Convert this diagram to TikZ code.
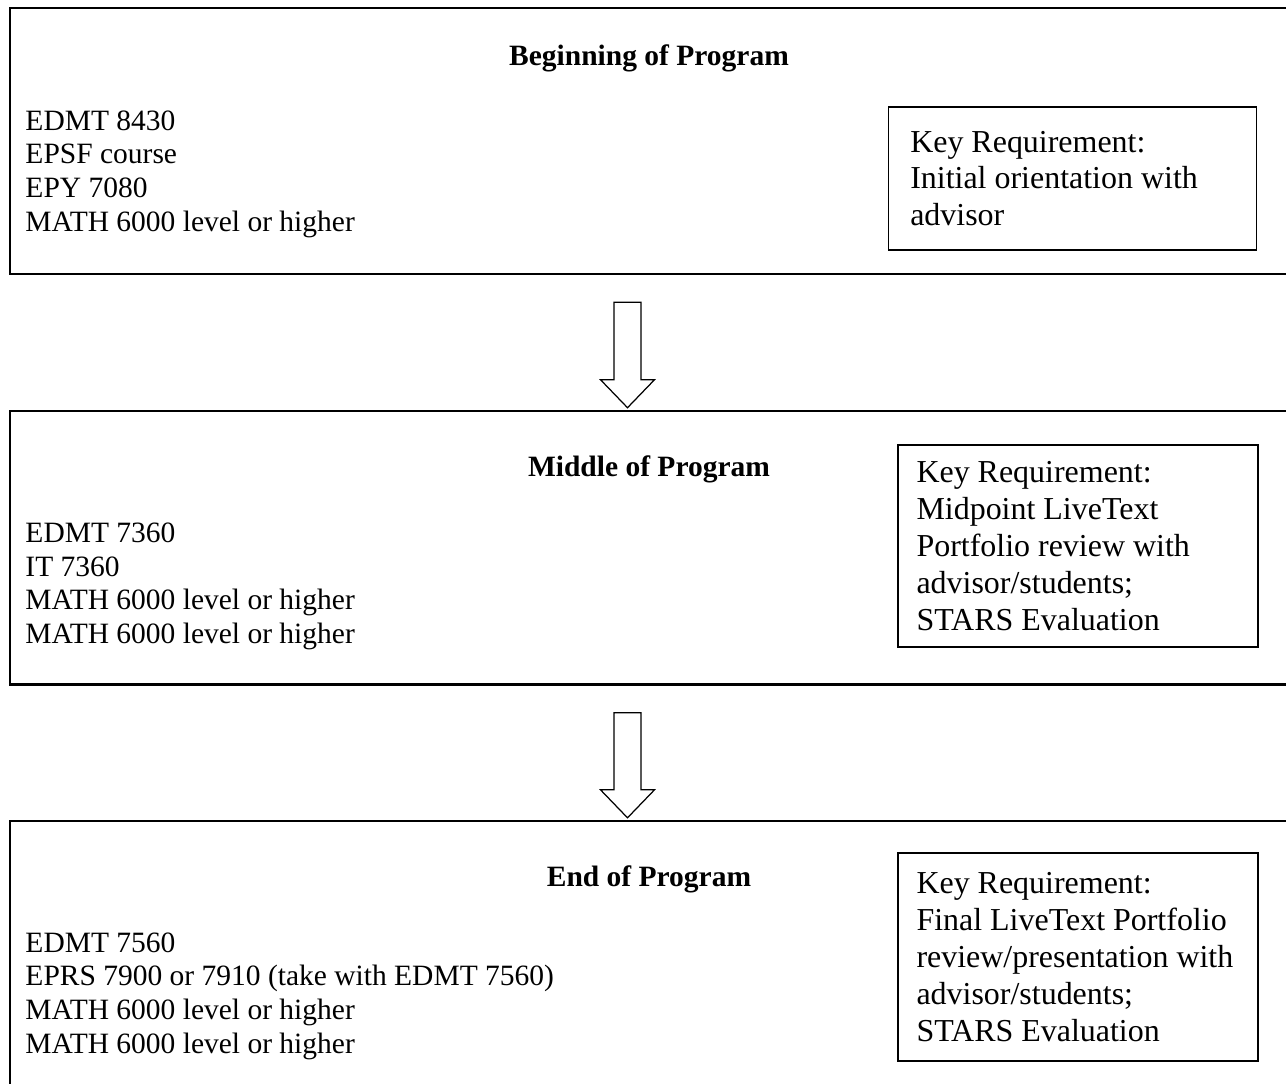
\documentclass[tikz,border=0pt]{standalone}
\usepackage{fontspec}
\setmainfont{Liberation Serif}
\usetikzlibrary{calc}

\begin{document}
\begin{tikzpicture}[x=0.4068pt,y=-0.4068pt,
  stage/.style={draw,line width=1pt,minimum width=520.7pt,inner sep=0pt},
  title/.style={font=\fontsize{12}{13.7}\selectfont\bfseries},
  courses/.style={anchor=west,align=left,inner sep=0pt,font=\fontsize{12}{13.7}\selectfont},
  keyreq/.style={draw,line width=0.5pt,align=flush left,inner ysep=0pt,font=\fontsize{13}{15}\selectfont},
  blk/.style={draw,line width=0.5pt,fill=white}]
\useasboundingbox (0,0) rectangle (1286,1084);
% the three stages
\node[stage,minimum height=108.2pt] (beg) at (650,141) {};
\node[stage,minimum height=111.3pt] (mid) at (650,547.75) {};
\node[stage,minimum height=109.4pt] (fin) at (650,955.5) {};
\node[title] (begtitle) at (649,58) {Beginning of Program};
\node[title] (midtitle) at (649,469) {Middle of Program};
\node[title] (fintitle) at (649,879) {End of Program};
\node[courses] (begcourses) at (25,174) {EDMT 8430\\EPSF course\\EPY 7080\\MATH 6000 level or higher};
\node[courses] (midcourses) at (25,586.5) {EDMT 7360\\IT 7360\\MATH 6000 level or higher\\MATH 6000 level or higher};
\node[courses] (fincourses) at (25,996) {EDMT 7560\\EPRS 7900 or 7910 (take with EDMT 7560)\\MATH 6000 level or higher\\MATH 6000 level or higher};
% key requirements
\node[keyreq,text width=132pt,inner xsep=9pt,minimum height=58.2pt] (begkey) at (1072.5,178.5)
  {Key Requirement:\\Initial orientation with\\advisor};
\node[keyreq,text width=131.4pt,inner xsep=7.5pt,minimum height=82.2pt] (midkey) at (1078,546)
  {Key Requirement:\\Midpoint LiveText\\Portfolio review with\\advisor/students;\\STARS Evaluation};
\node[keyreq,text width=131.4pt,inner xsep=7.5pt,minimum height=84.6pt] (finkey) at (1078,957)
  {Key Requirement:\\Final LiveText Portfolio\\review/presentation with\\advisor/students;\\STARS Evaluation};
% block arrows between stages
\foreach \u/\v in {beg/mid,mid/fin}{
  \coordinate (t) at ($(\u.south)+(-22.5,27)$);
  \coordinate (p) at ($(\v.north)+(-22.5,-2)$);
  \draw[blk] ($(t)+(-13.5,0)$) -- ($(p)+(-13.5,-28)$) -- ($(p)+(-27,-28)$) -- (p)
    -- ($(p)+(27,-28)$) -- ($(p)+(13.5,-28)$) -- ($(t)+(13.5,0)$) -- cycle;
}
\end{tikzpicture}
\end{document}
